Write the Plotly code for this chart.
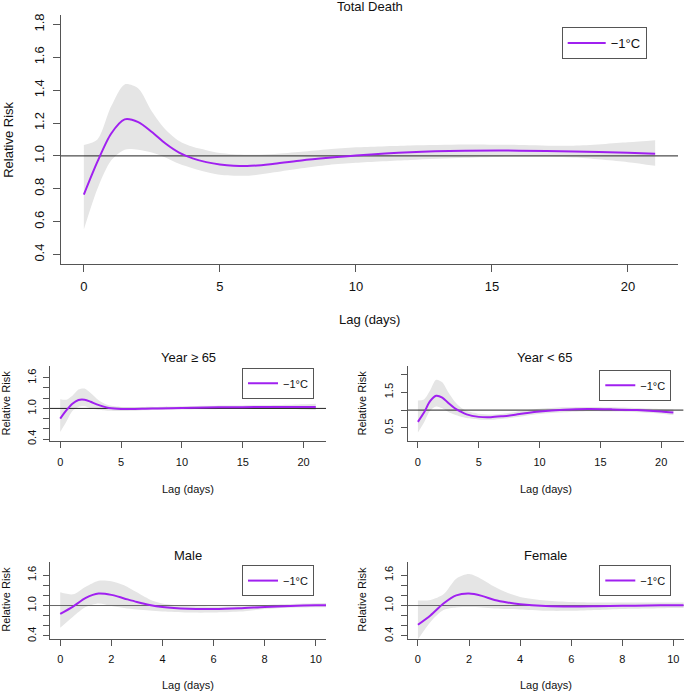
import plotly.graph_objects as go

# ---------------- data ----------------
lag_total = [0, 0.5, 1, 1.5, 2, 2.5, 3, 3.5, 4, 4.5, 5, 6, 7, 8, 9, 10, 12, 14, 16, 18, 20, 21]
rr_total = [0.765, 0.965, 1.135, 1.222, 1.205, 1.145, 1.075, 1.02, 0.985, 0.962, 0.948, 0.938, 0.952, 0.972, 0.988, 1.002, 1.022, 1.031, 1.032, 1.027, 1.019, 1.013]
hi_total = [1.066, 1.10, 1.30, 1.435, 1.41, 1.27, 1.16, 1.09, 1.055, 1.035, 1.018, 1.007, 1.012, 1.025, 1.04, 1.052, 1.064, 1.07, 1.067, 1.062, 1.083, 1.095]
lo_total = [0.552, 0.80, 0.972, 1.038, 1.037, 1.02, 0.99, 0.952, 0.925, 0.902, 0.886, 0.879, 0.90, 0.925, 0.945, 0.958, 0.975, 0.988, 0.995, 0.99, 0.962, 0.94]

lag_old = [0, 0.5, 1, 1.5, 2, 2.5, 3, 3.5, 4, 5, 6, 7, 8, 10, 12, 14, 16, 18, 20, 21]
rr_old = [0.80, 0.96, 1.09, 1.165, 1.17, 1.13, 1.08, 1.04, 1.01, 0.99, 0.99, 0.995, 1.0, 1.01, 1.018, 1.023, 1.027, 1.029, 1.03, 1.03]
hi_old = [1.18, 1.17, 1.25, 1.37, 1.39, 1.30, 1.19, 1.11, 1.06, 1.03, 1.025, 1.03, 1.03, 1.04, 1.05, 1.055, 1.06, 1.065, 1.08, 1.09]
lo_old = [0.54, 0.74, 0.95, 1.03, 1.04, 1.0, 0.98, 0.965, 0.955, 0.95, 0.955, 0.965, 0.97, 0.98, 0.985, 0.99, 0.99, 0.99, 0.98, 0.97]

lag_young = [0, 0.5, 1, 1.5, 2, 2.5, 3, 3.5, 4, 5, 6, 7, 8, 9, 10, 12, 14, 16, 18, 20, 21]
rr_young = [0.67, 0.93, 1.25, 1.40, 1.35, 1.20, 1.06, 0.96, 0.88, 0.81, 0.80, 0.83, 0.87, 0.92, 0.96, 1.01, 1.03, 1.02, 1.0, 0.96, 0.93]
hi_young = [1.27, 1.30, 1.55, 1.85, 1.78, 1.50, 1.25, 1.08, 0.98, 0.90, 0.88, 0.90, 0.95, 1.0, 1.04, 1.08, 1.09, 1.08, 1.06, 1.03, 1.02]
lo_young = [0.37, 0.65, 0.98, 1.10, 1.05, 0.95, 0.88, 0.82, 0.78, 0.74, 0.73, 0.76, 0.80, 0.85, 0.89, 0.94, 0.97, 0.96, 0.94, 0.90, 0.86]

lag_male = [0, 0.5, 1, 1.5, 2, 2.5, 3, 3.5, 4, 5, 6, 7, 8, 9, 10, 11]
rr_male = [0.835, 0.98, 1.15, 1.235, 1.21, 1.14, 1.07, 1.01, 0.97, 0.935, 0.93, 0.945, 0.972, 0.992, 1.005, 1.01]
hi_male = [1.26, 1.22, 1.37, 1.49, 1.48, 1.40, 1.26, 1.12, 1.04, 0.99, 0.975, 0.985, 1.01, 1.03, 1.045, 1.05]
lo_male = [0.56, 0.78, 0.97, 1.04, 0.99, 0.95, 0.92, 0.90, 0.88, 0.86, 0.86, 0.88, 0.93, 0.955, 0.965, 0.97]

lag_female = [0, 0.5, 1, 1.5, 2, 2.5, 3, 3.5, 4, 5, 6, 7, 8, 9, 10, 11]
rr_female = [0.62, 0.81, 1.04, 1.20, 1.235, 1.19, 1.11, 1.06, 1.026, 0.99, 0.98, 0.985, 0.993, 1.0, 1.006, 1.01]
hi_female = [1.10, 1.11, 1.22, 1.53, 1.62, 1.52, 1.37, 1.25, 1.17, 1.10, 1.07, 1.06, 1.06, 1.06, 1.06, 1.06]
lo_female = [0.33, 0.68, 0.91, 0.96, 0.97, 0.96, 0.94, 0.93, 0.92, 0.895, 0.895, 0.91, 0.93, 0.94, 0.95, 0.955]

titles = ["Total Death", "Year \u2265 65", "Year < 65", "Male", "Female"]
series_name = "\u22121\u00b0C"
x_label = "Lag (days)"
y_label = "Relative Risk"

xticks_long = [0, 5, 10, 15, 20]
xticks_short = [0, 2, 4, 6, 8, 10]
yticks_total = [0.4, 0.6, 0.8, 1.0, 1.2, 1.4, 1.6, 1.8]
yticks_small = [0.4, 0.6, 0.8, 1.0, 1.2, 1.4, 1.6]
ytext_small = ["0.4", "", "", "1.0", "", "", "1.6"]
yticks_young = [0.5, 1.0, 1.5, 2.0]
ytext_young = ["0.5", "", "1.5", ""]

# ---------------- styling ----------------
W, H = 685, 696
FONT = "Liberation Sans, Arial, Helvetica, sans-serif"
PURPLE = "#A020F0"
BAND = "#e5e5e5"
AXC = "#555555"

def px(x):
    return x / W

def py(y):
    return 1 - y / H

panels = [
    dict(lag=lag_total, rr=rr_total, lo=lo_total, hi=hi_total, title=titles[0],
         xdom=(61, 678), ydom=(13.3, 264), xr=(-0.84, 21.84), yr=(0.344, 1.856),
         xt=xticks_long, yt=yticks_total, ytt=[f"{v:.1f}" for v in yticks_total],
         fs=13, ticklen=7, title_xy=(370, 5), lag_y=320, rr_x=9, rr_y=139,
         leg=(561.7, 25.3), itemw=38, hcol="#222222", ystand=4),
    dict(lag=lag_old, rr=rr_old, lo=lo_old, hi=hi_old, title=titles[1],
         xdom=(50, 326), ydom=(366.7, 443.3), xr=(-0.84, 21.84), yr=(0.352, 1.84),
         xt=xticks_long, yt=yticks_small, ytt=ytext_small,
         fs=11, ticklen=6, title_xy=(188, 359), lag_y=491, rr_x=6, rr_y=405,
         leg=(242, 369), itemw=30, hcol="#222222", ystand=3),
    dict(lag=lag_young, rr=rr_young, lo=lo_young, hi=hi_young, title=titles[2],
         xdom=(407.7, 683.6), ydom=(366.7, 443.3), xr=(-0.84, 21.84), yr=(0.12, 2.25),
         xt=xticks_long, yt=yticks_young, ytt=ytext_young,
         fs=11, ticklen=6, title_xy=(545, 359), lag_y=491, rr_x=362, rr_y=405,
         leg=(599.3, 371), itemw=30, hcol="#222222", ystand=3),
    dict(lag=lag_male, rr=rr_male, lo=lo_male, hi=hi_male, title=titles[3],
         xdom=(50, 326), ydom=(565, 642.3), xr=(-0.4, 10.4), yr=(0.344, 1.856),
         xt=xticks_short, yt=yticks_small, ytt=ytext_small,
         fs=11, ticklen=6, title_xy=(188, 558), lag_y=689, rr_x=6, rr_y=603,
         leg=(242, 568), itemw=30, hcol="#666666", ystand=3),
    dict(lag=lag_female, rr=rr_female, lo=lo_female, hi=hi_female, title=titles[4],
         xdom=(407.7, 683.6), ydom=(565, 642.3), xr=(-0.4, 10.4), yr=(0.344, 1.856),
         xt=xticks_short, yt=yticks_small, ytt=ytext_small,
         fs=11, ticklen=6, title_xy=(545, 558), lag_y=689, rr_x=362, rr_y=603,
         leg=(599.3, 568), itemw=30, hcol="#666666", ystand=3),
]

fig = go.Figure()
layout = dict(
    width=W, height=H, margin=dict(l=0, r=0, t=0, b=0),
    paper_bgcolor="white", plot_bgcolor="white",
    font=dict(family=FONT, color="#111111"),
    annotations=[],
)

for i, p in enumerate(panels):
    n = "" if i == 0 else str(i + 1)
    xa, ya = "x" + n, "y" + n
    legname = "legend" + n
    lag = p["lag"]
    # CI band
    fig.add_trace(go.Scatter(x=lag, y=p["lo"], xaxis=xa, yaxis=ya, mode="lines",
                             line=dict(width=0, shape="spline", smoothing=0.8),
                             hoverinfo="skip", showlegend=False))
    fig.add_trace(go.Scatter(x=lag, y=p["hi"], xaxis=xa, yaxis=ya, mode="lines",
                             line=dict(width=0, shape="spline", smoothing=0.8),
                             fill="tonexty", fillcolor=BAND,
                             hoverinfo="skip", showlegend=False))
    # reference line at RR = 1 across the axis range
    fig.add_trace(go.Scatter(x=list(p["xr"]), y=[1, 1], xaxis=xa, yaxis=ya, mode="lines",
                             line=dict(width=1, color=p["hcol"]),
                             hoverinfo="skip", showlegend=False))
    # estimate
    fig.add_trace(go.Scatter(x=lag, y=p["rr"], xaxis=xa, yaxis=ya, mode="lines",
                             name=series_name, legend=legname,
                             line=dict(width=2, color=PURPLE, shape="spline", smoothing=0.8)))

    fs = p["fs"]
    layout["xaxis" + n] = dict(
        domain=[px(p["xdom"][0]), px(p["xdom"][1])], anchor=ya, range=list(p["xr"]),
        showgrid=False, zeroline=False, showline=True, linecolor=AXC, linewidth=1,
        ticks="outside", ticklen=p["ticklen"], tickcolor=AXC, tickwidth=1,
        tickvals=p["xt"], tickfont=dict(size=fs, family=FONT, color="#111111"),
        ticklabelstandoff=4,
    )
    layout["yaxis" + n] = dict(
        domain=[py(p["ydom"][1]), py(p["ydom"][0])], anchor=xa, range=list(p["yr"]),
        showgrid=False, zeroline=False, showline=True, linecolor=AXC, linewidth=1,
        ticks="outside", ticklen=p["ticklen"], tickcolor=AXC, tickwidth=1,
        tickvals=p["yt"], ticktext=p["ytt"], tickangle=-90,
        tickfont=dict(size=fs, family=FONT, color="#111111"),
        ticklabelstandoff=p["ystand"],
    )
    layout[legname] = dict(
        x=px(p["leg"][0]), y=py(p["leg"][1]), xanchor="left", yanchor="top",
        xref="paper", yref="paper",
        bgcolor="white", bordercolor=AXC, borderwidth=1,
        font=dict(size=fs, family=FONT, color="#111111"),
        itemwidth=p["itemw"],
    )
    tx, ty = p["title_xy"]
    layout["annotations"].append(dict(
        text=p["title"], x=px(tx), y=py(ty), xref="paper", yref="paper",
        xanchor="center", yanchor="middle", showarrow=False,
        font=dict(size=13, family=FONT, color="#111111")))
    cx = (p["xdom"][0] + p["xdom"][1]) / 2
    layout["annotations"].append(dict(
        text=x_label, x=px(cx), y=py(p["lag_y"]), xref="paper", yref="paper",
        xanchor="center", yanchor="middle", showarrow=False,
        font=dict(size=fs, family=FONT, color="#111111")))
    layout["annotations"].append(dict(
        text=y_label, x=px(p["rr_x"]), y=py(p["rr_y"]), xref="paper", yref="paper",
        xanchor="center", yanchor="middle", showarrow=False, textangle=-90,
        font=dict(size=fs, family=FONT, color="#111111")))

fig.update_layout(**layout)
# remove the default page margin so the figure sits at the window's top-left corner
fig.write_html("out.html", config={"displayModeBar": False},
               post_script="document.body.style.margin='0';")
